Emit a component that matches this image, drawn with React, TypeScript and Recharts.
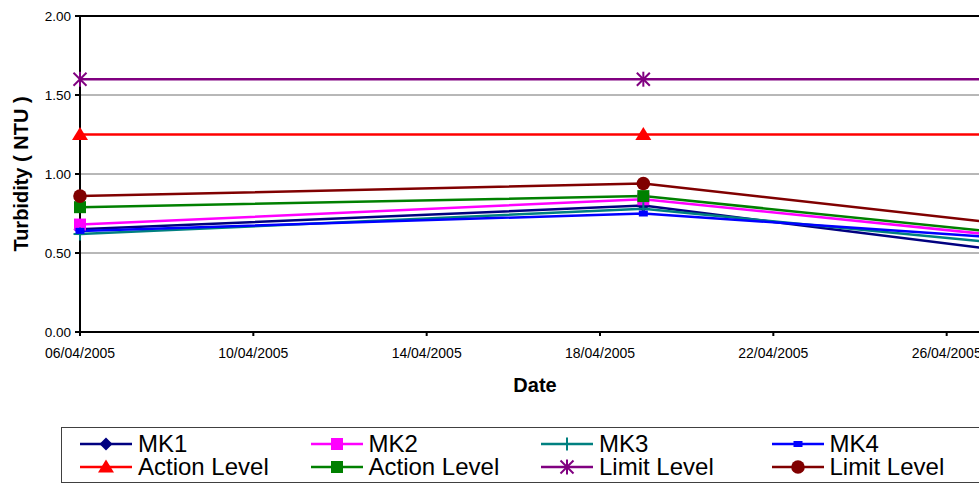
import React from "react";
import {
  CartesianGrid,
  Legend,
  Line,
  LineChart,
  ReferenceLine,
  XAxis,
  YAxis,
} from "recharts";

// sample dates (the third one lies past the right edge of the plot)
const sampleDates = ["06/04/2005", "19/04/2005", "03/05/2005"];

const mk1 = [0.65, 0.8, 0.32];
const mk2 = [0.68, 0.84, 0.45];
const mk3 = [0.62, 0.78, 0.41];
const mk4 = [0.64, 0.75, 0.49];
const actionRed = [1.25, 1.25, 1.25];
const actionGreen = [0.79, 0.86, 0.47];
const limitPurple = [1.6, 1.6, 1.6];
const limitDarkRed = [0.86, 0.94, 0.51];

const xTickLabels = [
  "06/04/2005",
  "10/04/2005",
  "14/04/2005",
  "18/04/2005",
  "22/04/2005",
  "26/04/2005",
];
const xAxisEnd = "27/04/2005";
const yTicks = [0, 0.5, 1, 1.5, 2];

const FONT = "'Liberation Sans', Arial, Helvetica, sans-serif";

const toTime = (s: string) => {
  const [d, m, y] = s.split("/").map(Number);
  return Date.UTC(y, m - 1, d);
};

const labelByTime: Record<number, string> = {};
xTickLabels.forEach((l) => (labelByTime[toTime(l)] = l));

const xDomain = [toTime(xTickLabels[0]), toTime(xAxisEnd)];

const data = sampleDates.map((d, i) => ({
  t: toTime(d),
  mk1: mk1[i],
  mk2: mk2[i],
  mk3: mk3[i],
  mk4: mk4[i],
  actionRed: actionRed[i],
  actionGreen: actionGreen[i],
  limitPurple: limitPurple[i],
  limitDarkRed: limitDarkRed[i],
}));

// only the samples inside the axis range get a visible marker
const markerData = data.filter((d) => d.t <= xDomain[1]);

type Shape = "diamond" | "square" | "plus" | "dash" | "triangle" | "star" | "circle";

const series: { key: string; name: string; color: string; shape: Shape }[] = [
  { key: "mk1", name: "MK1", color: "#000080", shape: "diamond" },
  { key: "mk2", name: "MK2", color: "#FF00FF", shape: "square" },
  { key: "mk3", name: "MK3", color: "#008080", shape: "plus" },
  { key: "mk4", name: "MK4", color: "#0000FF", shape: "dash" },
  { key: "actionRed", name: "Action Level", color: "#FF0000", shape: "triangle" },
  { key: "actionGreen", name: "Action Level", color: "#008000", shape: "square" },
  { key: "limitPurple", name: "Limit Level", color: "#800080", shape: "star" },
  { key: "limitDarkRed", name: "Limit Level", color: "#800000", shape: "circle" },
];

function Marker({ shape, color, cx, cy }: { shape: Shape; color: string; cx: number; cy: number }) {
  switch (shape) {
    case "diamond":
      return (
        <polygon
          points={`${cx},${cy - 6.5} ${cx + 6.5},${cy} ${cx},${cy + 6.5} ${cx - 6.5},${cy}`}
          fill={color}
        />
      );
    case "square":
      return <rect x={cx - 6} y={cy - 6} width={12} height={12} fill={color} />;
    case "plus":
      return (
        <g stroke={color} strokeWidth={2}>
          <line x1={cx - 6.5} y1={cy} x2={cx + 6.5} y2={cy} />
          <line x1={cx} y1={cy - 6.5} x2={cx} y2={cy + 6.5} />
        </g>
      );
    case "dash":
      return <rect x={cx - 4.5} y={cy - 3} width={9} height={6} fill={color} />;
    case "triangle":
      return (
        <polygon
          points={`${cx},${cy - 7.5} ${cx + 8},${cy + 5.5} ${cx - 8},${cy + 5.5}`}
          fill={color}
        />
      );
    case "star":
      return (
        <g stroke={color} strokeWidth={2}>
          <line x1={cx - 6.5} y1={cy - 6.5} x2={cx + 6.5} y2={cy + 6.5} />
          <line x1={cx - 6.5} y1={cy + 6.5} x2={cx + 6.5} y2={cy - 6.5} />
          <line x1={cx} y1={cy - 7.5} x2={cx} y2={cy + 7.5} />
        </g>
      );
    case "circle":
    default:
      return <circle cx={cx} cy={cy} r={6.8} fill={color} />;
  }
}

function LegendBox() {
  return (
    <div
      style={{
        display: "grid",
        gridTemplateColumns: "repeat(4, 230.5px)",
        gridAutoRows: "22.5px",
        paddingLeft: 18,
        paddingTop: 5,
        fontFamily: FONT,
        fontSize: 24,
        color: "#000",
      }}
    >
      {series.map((s, i) => (
        <div key={i} style={{ display: "flex", alignItems: "center", whiteSpace: "nowrap" }}>
          <svg width={52} height={22} style={{ flex: "none" }}>
            <line x1={0} y1={11} x2={52} y2={11} stroke={s.color} strokeWidth={2.5} />
            <Marker shape={s.shape} color={s.color} cx={26} cy={11} />
          </svg>
          <span style={{ marginLeft: 6, lineHeight: "22px" }}>{s.name}</span>
        </div>
      ))}
    </div>
  );
}

export default function App() {
  return (
    <div
      style={{
        position: "absolute",
        left: 0,
        top: 0,
        width: 979,
        height: 485,
        overflow: "hidden",
        background: "#fff",
      }}
    >
      <LineChart
        width={1000}
        height={485}
        data={data}
        margin={{ top: 16, right: 10, bottom: 37, left: 0 }}
        style={{ fontFamily: FONT }}
      >
        <CartesianGrid vertical={false} stroke="#707070" strokeWidth={1} />
        <XAxis
          xAxisId="x"
          dataKey="t"
          type="number"
          domain={xDomain}
          allowDataOverflow
          ticks={xTickLabels.map(toTime)}
          tickFormatter={(v: number) => labelByTime[v] ?? ""}
          height={60}
          stroke="#000"
          strokeWidth={2}
          tickSize={4}
          tickMargin={12}
          tick={{ fill: "#000", fontSize: 14 }}
          interval={0}
          label={{
            value: "Date",
            position: "insideBottom",
            offset: 0,
            style: { fontWeight: "bold", fontSize: 20, fill: "#000" },
          }}
        />
        <XAxis xAxisId="m" dataKey="t" type="number" domain={xDomain} height={0} hide />
        <YAxis
          type="number"
          domain={[0, 2]}
          ticks={yTicks}
          tickFormatter={(v: number) => v.toFixed(2)}
          width={80}
          stroke="#000"
          strokeWidth={2}
          tickSize={5}
          tickMargin={4}
          tick={{ fill: "#000", fontSize: 13.5 }}
          interval={0}
          label={{
            value: "Turbidity ( NTU )",
            angle: -90,
            position: "insideLeft",
            offset: 21,
            style: { fontWeight: "bold", fontSize: 20, fill: "#000", textAnchor: "middle" },
          }}
        />
        <ReferenceLine xAxisId="x" y={2} stroke="#000" strokeWidth={2} />
        {series.map((s) => (
          <Line
            key={s.key}
            xAxisId="x"
            dataKey={s.key}
            name={s.name}
            stroke={s.color}
            strokeWidth={2.5}
            isAnimationActive={false}
            dot={false}
            activeDot={false}
          />
        ))}
        {series.map((s) => (
          <Line
            key={`${s.key}-m`}
            xAxisId="m"
            data={markerData}
            dataKey={s.key}
            stroke="none"
            legendType="none"
            isAnimationActive={false}
            dot={(p: any) => (
              <Marker key={`${s.key}-${p.index}`} shape={s.shape} color={s.color} cx={p.cx} cy={p.cy} />
            )}
            activeDot={false}
          />
        ))}
        <Legend
          content={<LegendBox />}
          wrapperStyle={{
            left: 61,
            top: 427,
            width: 1000,
            height: 56,
            border: "1px solid #404040",
            boxSizing: "border-box",
            background: "#fff",
          }}
        />
      </LineChart>
    </div>
  );
}
